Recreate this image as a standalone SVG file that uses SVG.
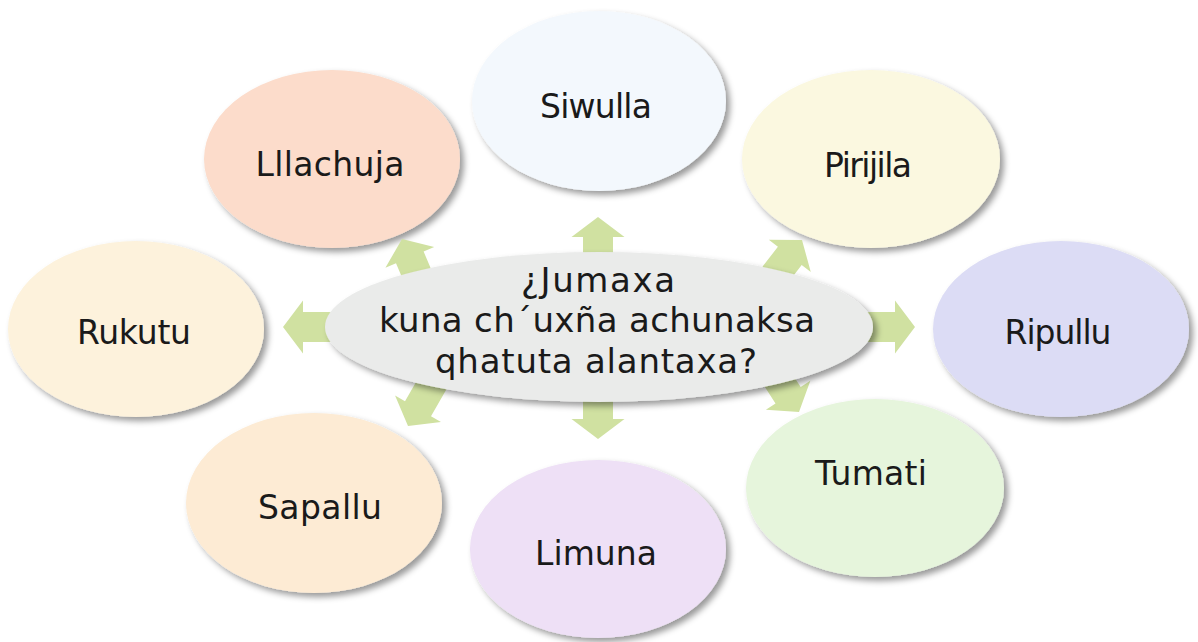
<svg xmlns="http://www.w3.org/2000/svg" width="1198" height="642" viewBox="0 0 1198 642">
  <defs>
    <filter id="sh" x="-10%" y="-10%" width="125%" height="130%">
      <feDropShadow dx="4" dy="4" stdDeviation="3" flood-color="#000" flood-opacity="0.4"/>
    </filter>
    <path id="arr" d="M0,0 L26.5,20 L15,20 L15,55 L-15,55 L-15,20 L-26.5,20 Z"/>
  </defs>
  <style>
    .node ellipse { filter: url(#sh); }
    .lbl { font-family: "DejaVu Sans", "Liberation Sans", sans-serif; font-size: 33px; fill: #1a1a1a; text-anchor: middle; }
    .ctr { font-size: 34px; }
    .conn use { fill: #d0e1a1; }
  </style>
  <rect width="1198" height="642" fill="#ffffff"/>

  <g id="siwulla" class="node">
    <ellipse cx="599" cy="101" rx="127" ry="90" fill="#f3f8fd"/>
    <text class="lbl" x="596" y="118" textLength="112">Siwulla</text>
  </g>
  <g id="lllachuja" class="node">
    <ellipse cx="332" cy="159" rx="128" ry="89" fill="#fcdccb"/>
    <text class="lbl" x="330" y="176" textLength="149">Lllachuja</text>
  </g>
  <g id="pirijila" class="node">
    <ellipse cx="871" cy="159" rx="129" ry="89" fill="#fbf8e0"/>
    <text class="lbl" x="868" y="177" textLength="88">Pirijila</text>
  </g>
  <g id="rukutu" class="node">
    <ellipse cx="136" cy="329" rx="128" ry="88" fill="#fdf2dc"/>
    <text class="lbl" x="134" y="344" textLength="114">Rukutu</text>
  </g>
  <g id="ripullu" class="node">
    <ellipse cx="1061" cy="329" rx="128" ry="88" fill="#dcdcf5"/>
    <text class="lbl" x="1058" y="344" textLength="107">Ripullu</text>
  </g>
  <g id="sapallu" class="node">
    <ellipse cx="314" cy="503" rx="128" ry="90" fill="#fdebd4"/>
    <text class="lbl" x="320" y="519" textLength="124">Sapallu</text>
  </g>
  <g id="limuna" class="node">
    <ellipse cx="598" cy="549" rx="128" ry="89" fill="#eee0f6"/>
    <text class="lbl" x="596" y="565" textLength="122">Limuna</text>
  </g>
  <g id="tumati" class="node">
    <ellipse cx="875" cy="488" rx="129" ry="89" fill="#e6f5dc"/>
    <text class="lbl" x="871" y="485" textLength="112">Tumati</text>
  </g>

  <g id="connectors" class="conn">
    <use href="#arr" transform="translate(598,217)"/>
    <use href="#arr" transform="translate(402,239) rotate(-23)"/>
    <use href="#arr" transform="translate(802,240) rotate(37.6)"/>
    <use href="#arr" transform="translate(283,327) rotate(-90)"/>
    <use href="#arr" transform="translate(915,327) rotate(90)"/>
    <use href="#arr" transform="translate(598,439) rotate(180)"/>
    <use href="#arr" transform="translate(408,426) rotate(210)"/>
    <use href="#arr" transform="translate(799,412) rotate(147)"/>
  </g>

  <g id="center" class="node">
    <ellipse cx="599" cy="327" rx="274" ry="75" fill="#eaebea"/>
    <text class="lbl ctr" x="598" y="292" textLength="154">¿Jumaxa</text>
    <text class="lbl ctr" x="597" y="332" textLength="436">kuna ch´uxña achunaksa</text>
    <text class="lbl ctr" x="596" y="373" textLength="322">qhatuta alantaxa?</text>
  </g>
</svg>
